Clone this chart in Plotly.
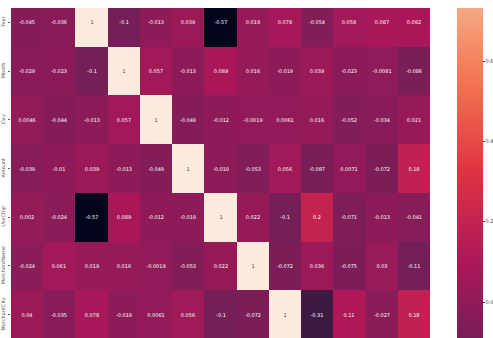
import plotly.graph_objects as go

# Correlation matrix rows (features) and columns
row_labels = ["Year", "Month", "Day", "Amount", "UseChip", "MerchantName", "MerchantCity"]
col_labels = ["User", "Card", "Year", "Month", "Day", "Amount", "UseChip",
              "MerchantName", "MerchantCity", "MerchantState", "Zip", "MCC", "IsFraud"]

year_row = [-0.045, -0.036, 1, -0.1, -0.013, 0.039, -0.57, 0.019, 0.078, -0.054, 0.058, 0.087, 0.092]
month_row = [-0.029, -0.023, -0.1, 1, 0.057, -0.013, 0.089, 0.016, -0.019, 0.039, -0.023, -0.0081, -0.086]
day_row = [0.0046, -0.044, -0.013, 0.057, 1, -0.049, -0.012, -0.0019, 0.0061, 0.016, -0.052, -0.034, 0.021]
amount_row = [-0.039, -0.01, 0.039, -0.013, -0.049, 1, -0.019, -0.053, 0.056, -0.087, 0.0071, -0.072, 0.18]
usechip_row = [0.002, -0.024, -0.57, 0.089, -0.012, -0.019, 1, 0.022, -0.1, 0.2, -0.071, -0.013, -0.041]
merchant_name_row = [-0.024, 0.061, 0.019, 0.016, -0.0019, -0.053, 0.022, 1, -0.072, 0.036, -0.075, 0.03, -0.11]
merchant_city_row = [0.04, -0.035, 0.078, -0.019, 0.0061, 0.056, -0.1, -0.072, 1, -0.31, 0.11, -0.027, 0.18]

z = [year_row, month_row, day_row, amount_row, usechip_row, merchant_name_row, merchant_city_row]
z_min, z_max = -0.57, 1.0
bar_top = 0.732  # highest value shown on the colour bar

# "rocket" colormap anchors
rocket = [
    (0.0, (3, 5, 26)),
    (1 / 7, (53, 25, 62)),
    (2 / 7, (112, 31, 87)),
    (3 / 7, (173, 23, 89)),
    (4 / 7, (225, 51, 66)),
    (5 / 7, (243, 118, 81)),
    (6 / 7, (246, 180, 143)),
    (1.0, (250, 235, 221)),
]


def sample(p):
    for (p0, c0), (p1, c1) in zip(rocket[:-1], rocket[1:]):
        if p0 <= p <= p1:
            t = (p - p0) / (p1 - p0) if p1 > p0 else 0
            return tuple(round(a + (b - a) * t) for a, b in zip(c0, c1))
    return rocket[-1][1]


def rgb(c):
    return "rgb(%d,%d,%d)" % c


full_scale = [[p, rgb(c)] for p, c in rocket]

# colour bar only covers the lower part of the scale
p_top = (bar_top - z_min) / (z_max - z_min)
bar_stops = [p for p, _ in rocket if p < p_top] + [p_top]
bar_scale = [[p / p_top, rgb(sample(p))] for p in bar_stops]

text = [[format(v, ".2g") for v in row] for row in z]

fig = go.Figure()
fig.add_trace(go.Heatmap(
    z=z, x=col_labels, y=row_labels,
    zmin=z_min, zmax=z_max, colorscale=full_scale,
    showscale=False,
    text=text, texttemplate="%{text}",
    textfont=dict(size=5, family="DejaVu Sans"),
    xgap=0, ygap=0,
))

fig.add_trace(go.Scatter(
    x=[None], y=[None], mode="markers", showlegend=False, hoverinfo="skip",
    marker=dict(
        color=[0], cmin=z_min, cmax=bar_top, colorscale=bar_scale, showscale=True,
        colorbar=dict(
            x=1.0633, xanchor="left", xpad=0, ypad=0,
            y=1.0, yanchor="top", lenmode="pixels", len=523,
            thickness=25.5, outlinewidth=0,
            tickmode="linear", tick0=0, dtick=0.2, tickformat=".1f",
            ticks="outside", ticklen=2, tickwidth=0.6, tickcolor="#444",
            tickfont=dict(size=5, color="#444", family="DejaVu Sans"),
        ),
    ),
))

fig.update_layout(
    width=493, height=338,
    margin=dict(l=8, r=63, t=8, b=0),
    paper_bgcolor="white", plot_bgcolor="white",
    xaxis=dict(range=[-0.5, 12.5], showticklabels=False, showgrid=False,
               zeroline=False, ticks=""),
    yaxis=dict(range=[6.48, -0.296], showgrid=False, zeroline=False,
               tickangle=-90, ticks="outside", ticklen=2, tickwidth=0.6,
               tickcolor="#555", ticklabelstandoff=1,
               tickfont=dict(size=5, color="#555", family="DejaVu Sans")),
)

fig.write_html("out.html")
